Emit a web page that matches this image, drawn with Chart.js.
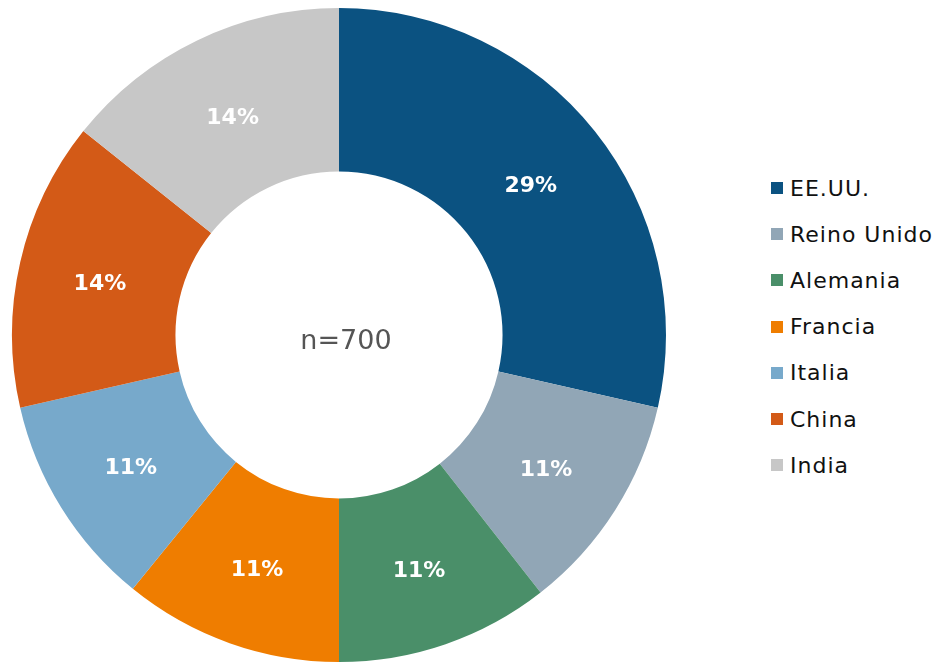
<!DOCTYPE html>
<html>
<head>
<meta charset="utf-8">
<script src="https://cdn.jsdelivr.net/npm/chart.js@4/dist/chart.umd.min.js"></script>
<style>
  html, body { margin: 0; padding: 0; background: #fff; }
  #wrap { position: relative; width: 936px; height: 662px; }
  #chart-box { position: absolute; left: 0; top: 0; width: 678px; height: 662px; }
  #legend { position: absolute; left: 771px; top: 165px; font-family: "DejaVu Sans", sans-serif; font-size: 22px; letter-spacing: 1px; color: #111; }
  .legend-item { height: 46.2px; display: flex; align-items: center; }
  .legend-item span.box { width: 12px; height: 12px; margin-right: 7px; display: inline-block; }
</style>
</head>
<body>
<div id="wrap">
  <div id="chart-box"><canvas id="donut"></canvas></div>
  <div id="legend"></div>
</div>
<script>
const countries = ['EE.UU.', 'Reino Unido', 'Alemania', 'Francia', 'Italia', 'China', 'India'];
const counts = [200, 76, 74, 76, 74, 100, 100];
const pctLabels = ['29%', '11%', '11%', '11%', '11%', '14%', '14%'];
const sliceColors = ['#0b5281', '#91a6b6', '#4a8f69', '#ef7d00', '#77a9cb', '#d35a17', '#c7c7c7'];
const centerText = 'n=700';

// white percentage labels in the middle of each slice
const sliceLabels = {
  id: 'sliceLabels',
  afterDatasetsDraw(chart) {
    const ctx = chart.ctx;
    const meta = chart.getDatasetMeta(0);
    ctx.save();
    ctx.fillStyle = '#fff';
    ctx.font = 'bold 22px "DejaVu Sans", sans-serif';
    ctx.textAlign = 'center';
    ctx.textBaseline = 'middle';
    meta.data.forEach((arc, i) => {
      const p = arc.tooltipPosition();
      ctx.fillText(pctLabels[i], p.x, p.y + 4);
    });
    // center text
    const c = meta.data[0];
    ctx.fillStyle = '#555';
    ctx.font = '27px "DejaVu Sans", sans-serif';
    ctx.fillText(centerText, c.x + 7, c.y + 7);
    ctx.restore();
  }
};

const ctx = document.getElementById('donut').getContext('2d');
new Chart(ctx, {
  type: 'doughnut',
  data: {
    labels: countries,
    datasets: [{
      data: counts,
      backgroundColor: sliceColors,
      borderWidth: 0
    }]
  },
  options: {
    responsive: true,
    maintainAspectRatio: false,
    animation: false,
    cutout: '50%',
    layout: { padding: { top: 8, bottom: 0 } },
    plugins: {
      legend: { display: false },
      tooltip: { enabled: false }
    }
  },
  plugins: [sliceLabels]
});

const legend = document.getElementById('legend');
countries.forEach((name, i) => {
  const row = document.createElement('div');
  row.className = 'legend-item';
  row.innerHTML = `<span class="box" style="background:${sliceColors[i]}"></span>${name}`;
  legend.appendChild(row);
});
</script>
</body>
</html>
